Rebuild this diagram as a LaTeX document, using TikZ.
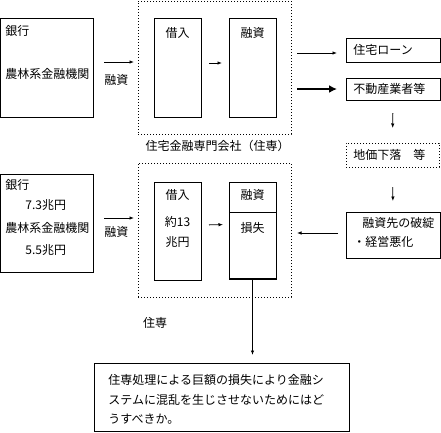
\documentclass[tikz,border=0pt]{standalone}
\usepackage{fontspec}
\setmainfont{Noto Sans CJK JP}
\usetikzlibrary{arrows.meta}

\begin{document}
\begin{tikzpicture}[x=1pt, y=-1pt, line width=0.8pt,
  box/.style={draw, anchor=north west, inner sep=0pt, outer sep=0pt},
  dotbox/.style={box, dash pattern=on 0.8pt off 2.2pt},
  lbl/.style={anchor=west, inner sep=0pt, font=\fontsize{12}{14}\selectfont},
  clbl/.style={inner sep=0pt, font=\fontsize{12}{14}\selectfont},
  arr/.style={-{Latex[length=4.5pt,width=3.5pt]}},
  bigarr/.style={line width=2.6pt, -{Latex[length=8pt,width=8pt]}}]
  \useasboundingbox (0,0) rectangle (441,432);

  \node[box, minimum width=93pt, minimum height=99pt] (bankA) at (0.5,18) {};
  \node[lbl] (bankAa) at (5,31) {銀行};
  \node[lbl] (bankAb) at (5,74) {農林系金融機関};
  \node[dotbox, minimum width=153pt, minimum height=133pt] (jusenA) at (138,1) {};
  \draw[arr, shorten <=10.5pt, shorten >=4pt] ([yshift=5.5pt]bankA.east) -- ([yshift=5.5pt]jusenA.west);
  \node[lbl] (lendAt) at (104,80) {融資};
  \node[box, minimum width=47pt, minimum height=99pt] (borrA) at (154,18) {};
  \node[clbl] (borrAt) at (177.5,33) {借入};
  \node[box, minimum width=47pt, minimum height=99pt] (loanA) at (229,18) {};
  \node[clbl] (loanAt) at (252.5,33) {融資};
  \draw[arr, shorten <=8pt, shorten >=7pt] ([yshift=4.5pt]borrA.east) -- ([yshift=4.5pt]loanA.west);
  \node[clbl] (jusenAt) at (217.5,146) {住宅金融専門会社（住専）};

  \node[box, minimum width=94pt, minimum height=24pt] (home) at (346,38) {};
  \node[lbl] (homet) at (353,50) {住宅ローン};
  \node[box, minimum width=94pt, minimum height=22pt] (realty) at (346,78) {};
  \node[lbl] (realtyt) at (353,89) {不動産業者等};
  \coordinate (h1) at (297,53);
  \coordinate (d1) at (297,89);
  \draw[arr, shorten >=9pt] (h1) -- (h1 -| home.west);
  \draw[bigarr, shorten >=9pt] (d1) -- (d1 -| realty.west);
  \node[dotbox, minimum width=93pt, minimum height=24pt] (land) at (346,143) {};
  \node[lbl] (landt) at (353,155) {地価下落　等};
  \draw[arr, shorten <=13pt, shorten >=15pt] (realty.south) -- (land.north);
  \node[box, minimum width=94pt, minimum height=46pt] (fail) at (346,212) {};
  \node[lbl] (failt1) at (362,223) {融資先の破綻};
  \node[lbl] (failt2) at (353,242) {・経営悪化};
  \draw[arr, shorten <=20pt, shorten >=11pt] (land.south) -- (fail.north);

  \node[box, minimum width=93pt, minimum height=98pt] (bankB) at (0.5,174) {};
  \node[lbl] (bankBa) at (5,185) {銀行};
  \node[lbl] (bankBb) at (25,205) {7.3兆円};
  \node[lbl] (bankBc) at (5,228) {農林系金融機関};
  \node[lbl] (bankBd) at (25,250) {5.5兆円};
  \node[dotbox, minimum width=153pt, minimum height=134pt] (jusenB) at (138,163) {};
  \coordinate (lendB) at (104,218);
  \draw[arr, shorten >=4pt] (lendB) -- (lendB -| jusenB.west);
  \node[lbl] (lendBt) at (104,232) {融資};
  \node[box, minimum width=47pt, minimum height=98pt] (borrB) at (154,182) {};
  \node[clbl] (borrBa) at (177.5,195) {借入};
  \node[clbl] (borrBb) at (177.5,222) {約13};
  \node[clbl] (borrBc) at (177.5,242) {兆円};
  \node[box, minimum width=47pt, minimum height=97pt] (lossB) at (229,182) {};
  \draw (lossB.north west) ++(0,30) -- ++(47,0);
  \draw[line width=2.2pt] (lossB.south west) -- (lossB.south east);
  \node[clbl] (lossBa) at (252.5,195) {融資};
  \node[clbl] (lossBb) at (252.5,228) {損失};
  \draw[arr, shorten <=8pt, shorten >=6pt] ([yshift=6pt]borrB.east) -- ([yshift=6pt]lossB.west);
  \coordinate (f1) at (338,233);
  \draw[arr, shorten >=6pt] (f1) -- (f1 -| jusenB.east);
  \node[clbl] (jusenBt) at (155,323) {住専};

  \node[box, minimum width=255pt, minimum height=68pt] (quest) at (94,363) {};
  \node[lbl] (questa) at (108,380) {住専処理による巨額の損失により金融シ};
  \node[lbl] (questb) at (108,400) {ステムに混乱を生じさせないためにはど};
  \node[lbl] (questc) at (108,419) {うすべきか。};
  \draw[arr, shorten >=8pt] (lossB.south) -- (quest.north -| lossB.south);
\end{tikzpicture}
\end{document}
